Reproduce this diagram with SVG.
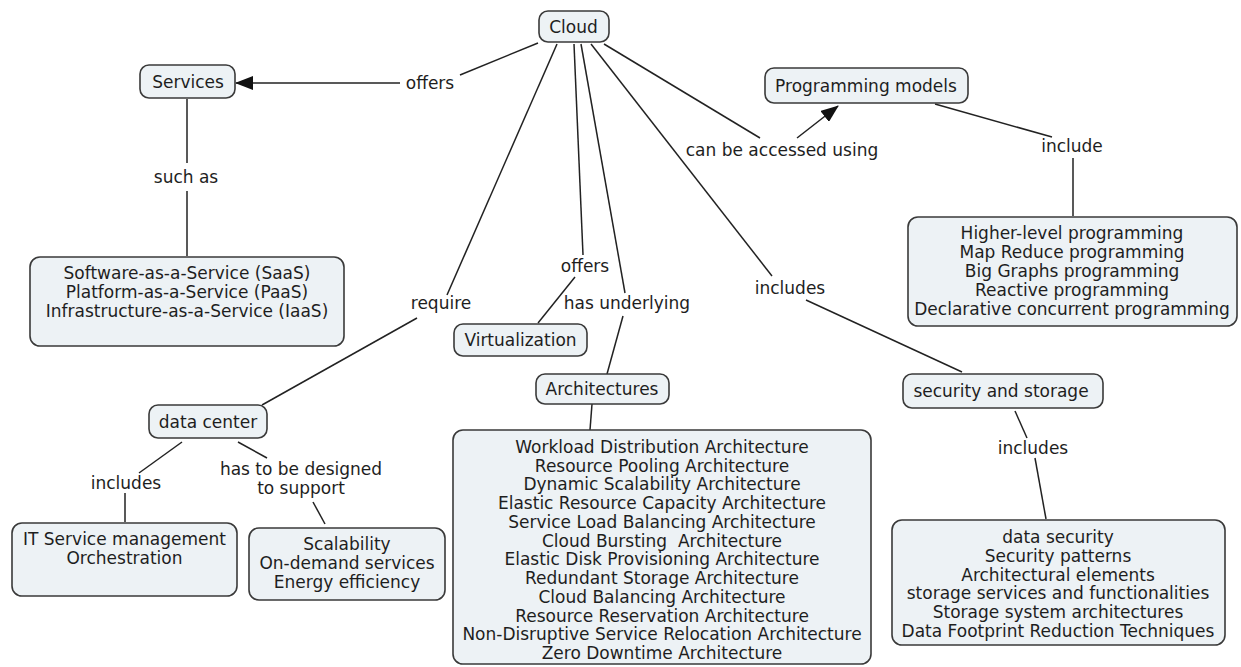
<svg xmlns="http://www.w3.org/2000/svg" width="1241" height="667" viewBox="0 0 1241 667">
<style>
.box{fill:#edf2f5;stroke:#3a3a3a;stroke-width:1.6}
text{font-family:"DejaVu Sans","Verdana",sans-serif;font-size:17px;fill:#1e1e1e;text-anchor:middle}
.c{fill:none;stroke:#222;stroke-width:1.5}
</style>
<defs>
<marker id="ah" markerUnits="userSpaceOnUse" markerWidth="18" markerHeight="14" refX="17" refY="7" orient="auto">
<path d="M0,0 L18,7 L0,14 z" fill="#111"/>
</marker>
</defs>
<rect width="1241" height="667" fill="#fff"/>
<g id="connectors">
<path class="c" d="M538,43 L460,75"/>
<path class="c" d="M400,83 L236,83" marker-end="url(#ah)"/>
<path class="c" d="M187,99 L187,163"/>
<path class="c" d="M187,191 L187,256"/>
<path class="c" d="M604,44 L760,138"/>
<path class="c" d="M797,138 L838,106" marker-end="url(#ah)"/>
<path class="c" d="M935,104 L1052,137"/>
<path class="c" d="M1073,158 L1073,216"/>
<path class="c" d="M557,44 L447,295"/>
<path class="c" d="M417,318 L262,405"/>
<path class="c" d="M574,44 L583,255"/>
<path class="c" d="M575,277 L538,323"/>
<path class="c" d="M581,44 L625,293"/>
<path class="c" d="M623,316 L607,374"/>
<path class="c" d="M591,44 L772,276"/>
<path class="c" d="M806,300 L962,372"/>
<path class="c" d="M592,404 L590,430"/>
<path class="c" d="M182,442 L139,473"/>
<path class="c" d="M125,493 L125,522"/>
<path class="c" d="M238,442 L267,458"/>
<path class="c" d="M313,502 L325,524"/>
<path class="c" d="M1015,411 L1027,438"/>
<path class="c" d="M1035,458 L1046,519"/>
</g>
<g id="cloud"><rect class="box" x="539" y="11" width="70" height="31" rx="9"/><text x="573.5" y="33">Cloud</text></g>
<g id="services"><rect class="box" x="140" y="65" width="95" height="33" rx="9"/><text x="188" y="88">Services</text></g>
<g id="programming-models"><rect class="box" x="765" y="68" width="203" height="35" rx="9"/><text x="866" y="92">Programming models</text></g>
<g id="service-models"><rect class="box" x="30" y="257" width="314" height="89" rx="10"/>
<text x="187" y="279">Software-as-a-Service (SaaS)</text>
<text x="187" y="298">Platform-as-a-Service (PaaS)</text>
<text x="187" y="317">Infrastructure-as-a-Service (IaaS)</text></g>
<g id="programming-list"><rect class="box" x="908" y="217" width="329" height="109" rx="10"/>
<text x="1072" y="239">Higher-level programming</text>
<text x="1072" y="258">Map Reduce programming</text>
<text x="1072" y="277">Big Graphs programming</text>
<text x="1072" y="296">Reactive programming</text>
<text x="1072" y="315">Declarative concurrent programming</text></g>
<g id="virtualization"><rect class="box" x="454" y="324" width="133" height="32" rx="9"/><text x="520.5" y="346">Virtualization</text></g>
<g id="architectures"><rect class="box" x="536" y="374" width="133" height="30" rx="9"/><text x="602" y="395">Architectures</text></g>
<g id="data-center"><rect class="box" x="149" y="405" width="118" height="33" rx="9"/><text x="208" y="428">data center</text></g>
<g id="security-storage"><rect class="box" x="903" y="374" width="200" height="34" rx="9"/><text x="1001" y="397">security and storage</text></g>
<g id="it-service"><rect class="box" x="12" y="523" width="225" height="73" rx="10"/>
<text x="124.5" y="545">IT Service management</text>
<text x="124.5" y="564">Orchestration</text></g>
<g id="scalability"><rect class="box" x="249" y="528" width="196" height="72" rx="10"/>
<text x="347" y="550">Scalability</text>
<text x="347" y="569">On-demand services</text>
<text x="347" y="588">Energy efficiency</text></g>
<g id="architecture-list"><rect class="box" x="453" y="430" width="418" height="234" rx="10"/>
<text x="662" y="453">Workload Distribution Architecture</text>
<text x="662" y="472">Resource Pooling Architecture</text>
<text x="662" y="490">Dynamic Scalability Architecture</text>
<text x="662" y="509">Elastic Resource Capacity Architecture</text>
<text x="662" y="528">Service Load Balancing Architecture</text>
<text x="662" y="547" xml:space="preserve">Cloud Bursting  Architecture</text>
<text x="662" y="565">Elastic Disk Provisioning Architecture</text>
<text x="662" y="584">Redundant Storage Architecture</text>
<text x="662" y="603">Cloud Balancing Architecture</text>
<text x="662" y="622">Resource Reservation Architecture</text>
<text x="662" y="640">Non-Disruptive Service Relocation Architecture</text>
<text x="662" y="659">Zero Downtime Architecture</text></g>
<g id="security-list"><rect class="box" x="892" y="520" width="333" height="125" rx="10"/>
<text x="1058" y="543">data security</text>
<text x="1058" y="562">Security patterns</text>
<text x="1058" y="581">Architectural elements</text>
<text x="1058" y="599">storage services and functionalities</text>
<text x="1058" y="618">Storage system architectures</text>
<text x="1058" y="637">Data Footprint Reduction Techniques</text></g>
<g id="labels">
<text x="430" y="89">offers</text>
<text x="186" y="183">such as</text>
<text x="782" y="156">can be accessed using</text>
<text x="1072" y="152">include</text>
<text x="441" y="309">require</text>
<text x="585" y="272">offers</text>
<text x="627" y="309">has underlying</text>
<text x="790" y="294">includes</text>
<text x="126" y="489">includes</text>
<text x="301" y="475">has to be designed</text>
<text x="301" y="494">to support</text>
<text x="1033" y="454">includes</text>
</g>
</svg>
